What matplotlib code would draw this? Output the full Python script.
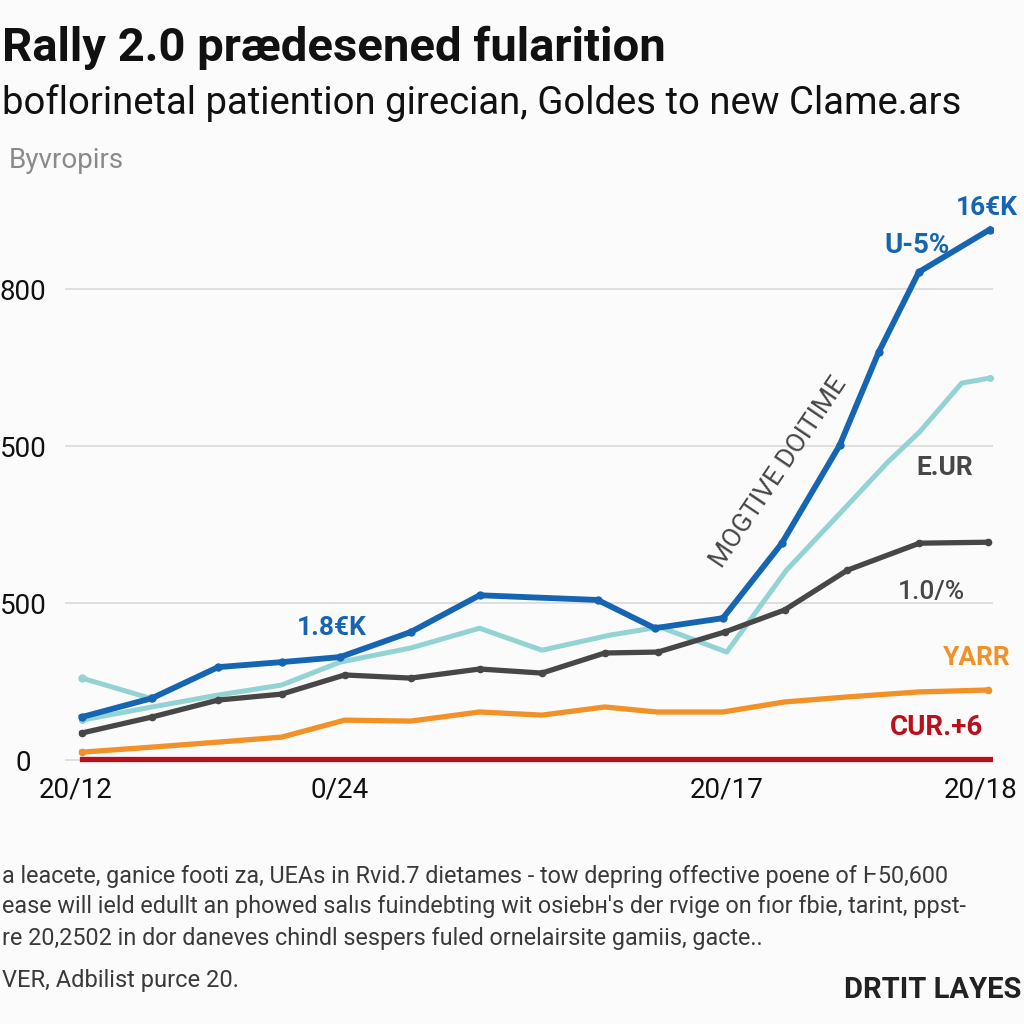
import numpy as np
import matplotlib
matplotlib.use('Agg')
import matplotlib.pyplot as plt

plt.rcParams['font.family'] = ['Roboto', 'DejaVu Sans']

# series (x in step units, y in chart units)
blue_x = [0, 1.08, 2.10, 3.08, 3.98, 5.07, 6.13, 7.95, 8.83, 9.88, 10.79, 11.68, 12.28, 12.9, 13.99]
blue_y = [137, 197, 296, 312, 328, 408, 525, 510, 420, 452, 691, 1003, 1299, 1555, 1690]

teal_x = [0, 1.08, 2.10, 3.08, 3.98, 5.07, 6.13, 7.09, 8.14, 8.91, 9.94, 10.86, 11.73, 12.42, 12.91, 13.56, 13.99]
teal_y = [127, 169, 207, 239, 312, 357, 420, 350, 398, 424, 344, 605, 796, 949, 1045, 1201, 1217]
teal2_x = [0, 1.05]
teal2_y = [261, 197]

gray_x = [0, 1.08, 2.10, 3.08, 4.05, 5.07, 6.13, 7.09, 8.06, 8.88, 9.91, 10.83, 11.80, 12.91, 13.96]
gray_y = [86, 137, 191, 210, 271, 261, 290, 277, 341, 344, 408, 478, 605, 691, 694]

orange_x = [0, 1.08, 2.10, 3.08, 4.05, 5.07, 6.13, 7.09, 8.06, 8.86, 9.88, 10.83, 11.80, 12.91, 13.96]
orange_y = [25, 41, 57, 73, 127, 124, 153, 143, 169, 153, 153, 185, 201, 217, 223]

red_x = [0, 13.99]
red_y = [2, 2]

ytick_vals = [0, 500, 1000, 1500]
ytick_text = ['0', '500', '500', '800']
xtick_vals = [-0.1, 3.98, 9.94, 13.85]
xtick_text = ['20/12', '0/24', '20/17', '20/18']

c_blue = '#1565b3'
c_teal = '#93d3d3'
c_gray = '#474747'
c_orange = '#f19128'
c_red = '#b8101c'

fig = plt.figure(figsize=(10.24, 10.24), dpi=100)
fig.patch.set_facecolor('#fbfbfb')
ax = fig.add_axes([0.0635, 0.248, 0.906, 0.566])
ax.set_facecolor('#fbfbfb')

ax.plot(teal2_x, teal2_y, color=c_teal, lw=3.6, marker='o', ms=5, solid_capstyle='round')
ax.plot(teal_x, teal_y, color=c_teal, lw=3.6, marker='o', ms=4, markevery=[0, len(teal_x) - 1])
ax.plot(orange_x, orange_y, color=c_orange, lw=3.8, marker='o', ms=4.5, markevery=[0, len(orange_x) - 1])
ax.plot(gray_x, gray_y, color=c_gray, lw=3.8, marker='o', ms=4.5)
ax.plot(blue_x, blue_y, color=c_blue, lw=4.2, marker='o', ms=5)
ax.plot(red_x, red_y, color=c_red, lw=3.8)

ax.set_xlim(-0.26, 14.04)
ax.set_ylim(-32, 1815)
ax.set_yticks(ytick_vals)
ax.set_yticklabels(ytick_text)
ax.set_xticks(xtick_vals)
ax.set_xticklabels(xtick_text)
ax.tick_params(axis='both', length=0, labelsize=20, colors='#111111')
ax.tick_params(axis='y', pad=30)
ax.tick_params(axis='x', pad=5)
for lab in ax.get_yticklabels():
    lab.set_horizontalalignment('center')
ax.grid(axis='y', color='#dcdcdc', lw=1.3)
ax.set_axisbelow(True)
for s in ax.spines.values():
    s.set_visible(False)

# annotations inside the chart
ax.text(14.42, 1760, '16€K', color=c_blue, fontsize=19, fontweight='bold', ha='right', va='center', clip_on=False)
ax.text(12.88, 1640, 'U-5%', color=c_blue, fontsize=20, fontweight='bold', ha='center', va='center')
ax.text(3.85, 420, '1.8€K', color=c_blue, fontsize=19, fontweight='bold', ha='center', va='center')
ax.text(13.3, 930, 'E.UR', color=c_gray, fontsize=19, fontweight='bold', ha='center', va='center')
ax.text(13.1, 535, '1.0/%', color=c_gray, fontsize=19, fontweight='medium', ha='center', va='center')
ax.text(13.8, 325, 'YARR', color=c_orange, fontsize=19, fontweight='bold', ha='center', va='center')
ax.text(13.17, 105, 'CUR.+6', color=c_red, fontsize=20, fontweight='bold', ha='center', va='center')
ax.text(10.75, 917, 'MOGTIVE DOITIME', color=c_gray, fontsize=19, ha='center', va='center', rotation=56)

# header texts
fig.text(0.002, 1 - 48 / 1024, 'Rally 2.0 prædesened fularition', fontsize=34, fontweight='bold', color='#111111', va='center')
fig.text(0.002, 1 - 103 / 1024, 'boflorinetal patiention girecian, Goldes to new Clame.ars', fontsize=27.5, color='#111111', va='center')
fig.text(0.009, 1 - 160 / 1024, 'Byvropirs', fontsize=20, color='#8a8a8a', va='center')

# footnote
foot = ['a leacete, ganice footi za, UEAs in Rvid.7 dietames - tow depring offective poene of Ⱶ50,600',
        'ease will ield edullt an phowed salıs fuindebting wit osiebн\'s der rvige on fıor fbie, tarint, ppst-',
        're 20,2502 in dor daneves chindl sespers fuled ornelairsite gamiis, gacte..']
for i, line in enumerate(foot):
    fig.text(0.002, 1 - (876 + 31 * i) / 1024, line, fontsize=16.8, color='#3a3a3a', va='center')
fig.text(0.002, 1 - 980 / 1024, 'VER, Adbilist purce 20.', fontsize=17, color='#3a3a3a', va='center')
fig.text(0.997, 1 - 990 / 1024, 'DRTIT LAYES', fontsize=21, fontweight='bold', color='#222222', va='center', ha='right')

fig.savefig('out.png', dpi=100, facecolor=fig.get_facecolor())
